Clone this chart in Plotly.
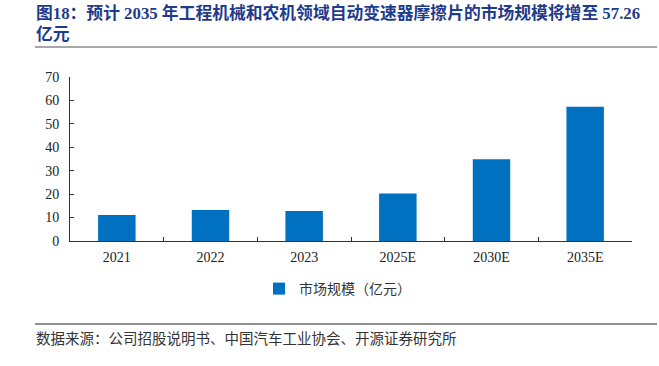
import plotly.graph_objects as go

categories = ["2021", "2022", "2023", "2025E", "2030E", "2035E"]
values = [11.1, 13.2, 12.8, 20.3, 34.9, 57.26]
series_name = "市场规模（亿元）"
title_line1 = "图18：预计 2035 年工程机械和农机领域自动变速器摩擦片的市场规模将增至 57.26"
title_line2 = "亿元"
source_text = "数据来源：公司招股说明书、中国汽车工业协会、开源证券研究所"

SERIF = "Liberation Serif, Noto Sans CJK SC, serif"
CJK = "Noto Sans CJK SC, sans-serif"

fig = go.Figure()
fig.add_trace(go.Bar(x=categories, y=values, name=series_name,
                     marker=dict(color="#0070C0", line=dict(width=0)),
                     showlegend=True))

L, R, T, B = 70, 27, 77, 125
W, H = 659, 366
pw, ph = W - L - R, H - T - B

def px_x(x):
    return (x - L) / pw

def px_y(y):
    return (H - B - y) / ph

fig.update_layout(
    width=W, height=H,
    margin=dict(l=L, r=R, t=T, b=B, pad=0, autoexpand=False),
    plot_bgcolor="white", paper_bgcolor="white",
    bargap=0.6,
    font=dict(family=SERIF, size=14, color="#222"),
    showlegend=True,
    legend=dict(orientation="h", x=px_x(259), xanchor="left",
                y=px_y(289), yanchor="middle",
                font=dict(family=CJK, size=14, color="#333"),
                itemwidth=30, bgcolor="rgba(0,0,0,0)"),
    xaxis=dict(type="category", showline=True, linecolor="#333", linewidth=1,
               ticks="inside", ticklen=4, tickcolor="#333", tickson="boundaries",
               tickfont=dict(family=SERIF, size=14, color="#222"),
               ticklabelstandoff=3,
               showgrid=False, zeroline=False, automargin=False),
    yaxis=dict(range=[0, 70], dtick=10, showline=True, linecolor="#333", linewidth=1,
               ticks="inside", ticklen=4, tickcolor="#333",
               tickfont=dict(family=SERIF, size=14, color="#222"),
               ticklabelstandoff=7,
               showgrid=False, zeroline=False, automargin=False),
)

fig.add_annotation(text="<b>" + title_line1 + "</b>", xref="paper", yref="paper",
                   x=px_x(34), y=px_y(13), xanchor="left", yanchor="middle",
                   showarrow=False, font=dict(family=SERIF, size=16.8, color="#1F3B8C"))
fig.add_annotation(text="<b>" + title_line2 + "</b>", xref="paper", yref="paper",
                   x=px_x(34), y=px_y(34), xanchor="left", yanchor="middle",
                   showarrow=False, font=dict(family=SERIF, size=16.8, color="#1F3B8C"))
fig.add_annotation(text=source_text, xref="paper", yref="paper",
                   x=px_x(34), y=px_y(337), xanchor="left", yanchor="middle",
                   showarrow=False, font=dict(family=CJK, size=14.5, color="#333"))

fig.add_shape(type="line", xref="paper", yref="paper",
              x0=px_x(35), x1=px_x(657), y0=px_y(47), y1=px_y(47),
              line=dict(color="#8a8a8a", width=1.5))
fig.add_shape(type="line", xref="paper", yref="paper",
              x0=px_x(35), x1=px_x(657), y0=px_y(324), y1=px_y(324),
              line=dict(color="#222", width=1))

fig.write_html("out.html", config={"displayModeBar": False},
               post_script="document.body.style.margin='0';")
